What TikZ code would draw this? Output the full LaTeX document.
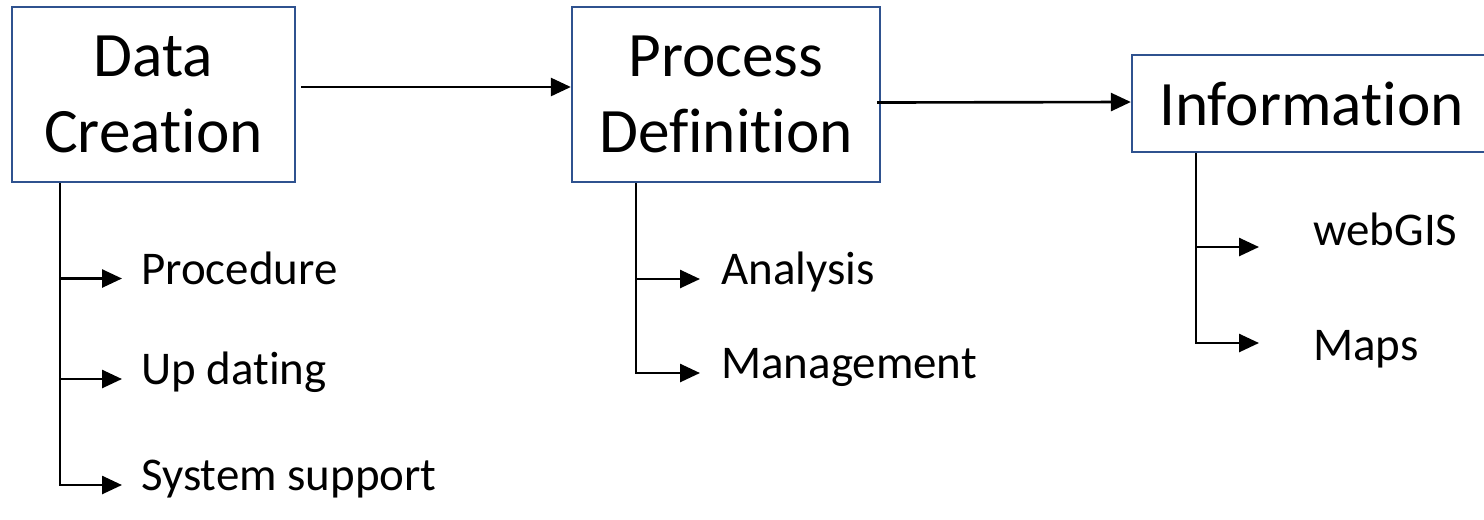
\documentclass[tikz,border=0pt]{standalone}
\usepackage{fontspec}
\setmainfont{Carlito}[Ligatures=NoCommon]
\usepackage{xcolor}
\usetikzlibrary{arrows.meta}
\definecolor{boxblue}{RGB}{47,82,143}
\tikzset{box/.style={rectangle,draw=boxblue,line width=1.3pt,align=center,inner sep=0pt,font=\fontsize{36}{43}\selectfont},
         item/.style={anchor=west,inner sep=0pt,text height=0.632em,text depth=0pt,font=\fontsize{26.7}{32}\selectfont}}

\begin{document}
\begin{tikzpicture}[>={Triangle[length=0.4cm,width=0.36cm]},line width=1.5pt]
    \useasboundingbox (0,0) rectangle (29.68,-10.38);

    \node[box,minimum width=5.66cm,minimum height=3.5cm] (dc) at (3.07,-1.89) {Data\\Creation};
    \node[box,minimum width=6.16cm,minimum height=3.5cm] (pd) at (14.52,-1.89) {Process\\Definition};
    \node[box,minimum width=7.18cm,minimum height=1.94cm] (inf) at (26.23,-2.07) {Information};

    \node[item] (proc) at (2.8,-5.57) {Procedure};
    \node[item] (upd) at (2.8,-7.58) {Up dating};
    \node[item] (sys) at (2.8,-9.7) {System support};

    \node[item] (ana) at (14.4,-5.58) {Analysis};
    \node[item] (man) at (14.4,-7.46) {Management};

    \node[item] (web) at (26.24,-4.8) {webGIS};
    \node[item] (maps) at (26.24,-7.09) {Maps};

    \draw [->] ([xshift=0.1cm,yshift=0.15cm]dc.east) to ([yshift=0.15cm]pd.west);
    \draw [->] ([xshift=-0.08cm,yshift=-0.16cm]pd.east) to ([yshift=0.03cm]inf.west);

    \draw [->] ([xshift=-1.87cm]dc.south) |- ([xshift=-0.36cm]proc.west);
    \draw [->] ([xshift=-1.87cm]dc.south) |- ([xshift=-0.36cm]upd.west);
    \draw [->] ([xshift=-1.87cm]dc.south) |- ([xshift=-0.36cm]sys.west);

    \draw [->] ([xshift=-1.8cm]pd.south) |- ([xshift=-0.4cm]ana.west);
    \draw [->] ([xshift=-1.8cm]pd.south) |- ([xshift=-0.4cm]man.west);

    \draw [->] ([xshift=-2.31cm]inf.south) |- ([xshift=-1.06cm,yshift=-0.14cm]web.west);
    \draw [->] ([xshift=-2.31cm]inf.south) |- ([xshift=-1.06cm,yshift=0.23cm]maps.west);
\end{tikzpicture}
\end{document}
